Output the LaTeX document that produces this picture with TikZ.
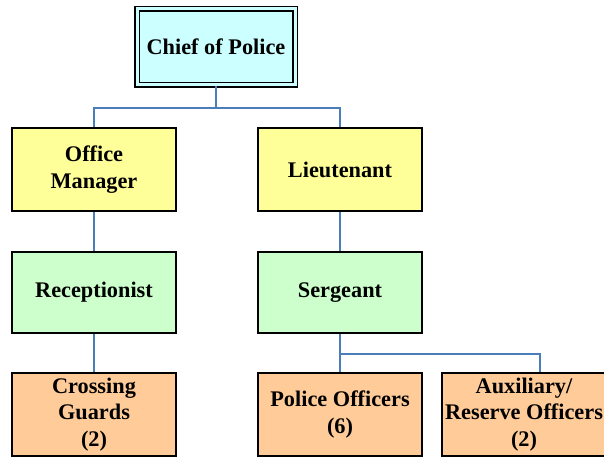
\documentclass[tikz,border=0pt]{standalone}
\usepackage{fontspec}
\setmainfont{Liberation Serif}
\definecolor{chiefcol}{HTML}{CCFFFF}
\definecolor{yelcol}{HTML}{FFFF99}
\definecolor{grncol}{HTML}{CCFFCC}
\definecolor{orgcol}{HTML}{FFCC99}
\definecolor{linkcol}{HTML}{4A7EBB}
\begin{document}
\begin{tikzpicture}[x=1pt,y=1pt,
  box/.style={draw=black, line width=1.2pt, minimum width=164pt, inner sep=1pt,
    align=center, font=\fontsize{22.3}{26.5}\selectfont\bfseries},
  link/.style={draw=linkcol, line width=1.3pt}]
\useasboundingbox (0,0) rectangle (604,457);
\clip (0,0) rectangle (604,457);
\node[box, fill=chiefcol, double=chiefcol, double distance=3pt, line width=1.4pt,
  minimum width=158pt, minimum height=76pt] (chief) at (216,410) {Chief of Police};
\node[box, fill=yelcol, minimum height=83pt] (office) at (94,287.5) {Office\\Manager};
\node[box, fill=yelcol, minimum height=83pt] (lieut) at (340,287.5) {Lieutenant};
\node[box, fill=grncol, minimum height=81pt] (recep) at (94,164.5) {Receptionist};
\node[box, fill=grncol, minimum height=81pt] (serg) at (340,164.5) {Sergeant};
\node[box, fill=orgcol, minimum height=83pt] (cross) at (94,42.5) {Crossing\\Guards\\(2)};
\node[box, fill=orgcol, minimum height=83pt] (police) at (340,42.5) {Police Officers\\(6)};
\node[box, fill=orgcol, minimum height=83pt] (aux) at (524,42.5) {Auxiliary/\\Reserve Officers\\(2)};
\coordinate (j1) at (216,349);
\coordinate (j2) at (340,103);
\coordinate (auxtop) at ([xshift=16pt]aux.north);
\draw[link] (chief.south) -- (j1);
\draw[link] (j1) -| (office.north);
\draw[link] (j1) -| (lieut.north);
\draw[link] (office.south) -- (recep.north);
\draw[link] (lieut.south) -- (serg.north);
\draw[link] (recep.south) -- (cross.north);
\draw[link] (serg.south) -- (police.north);
\draw[link] (j2) -| (auxtop);
\end{tikzpicture}
\end{document}
